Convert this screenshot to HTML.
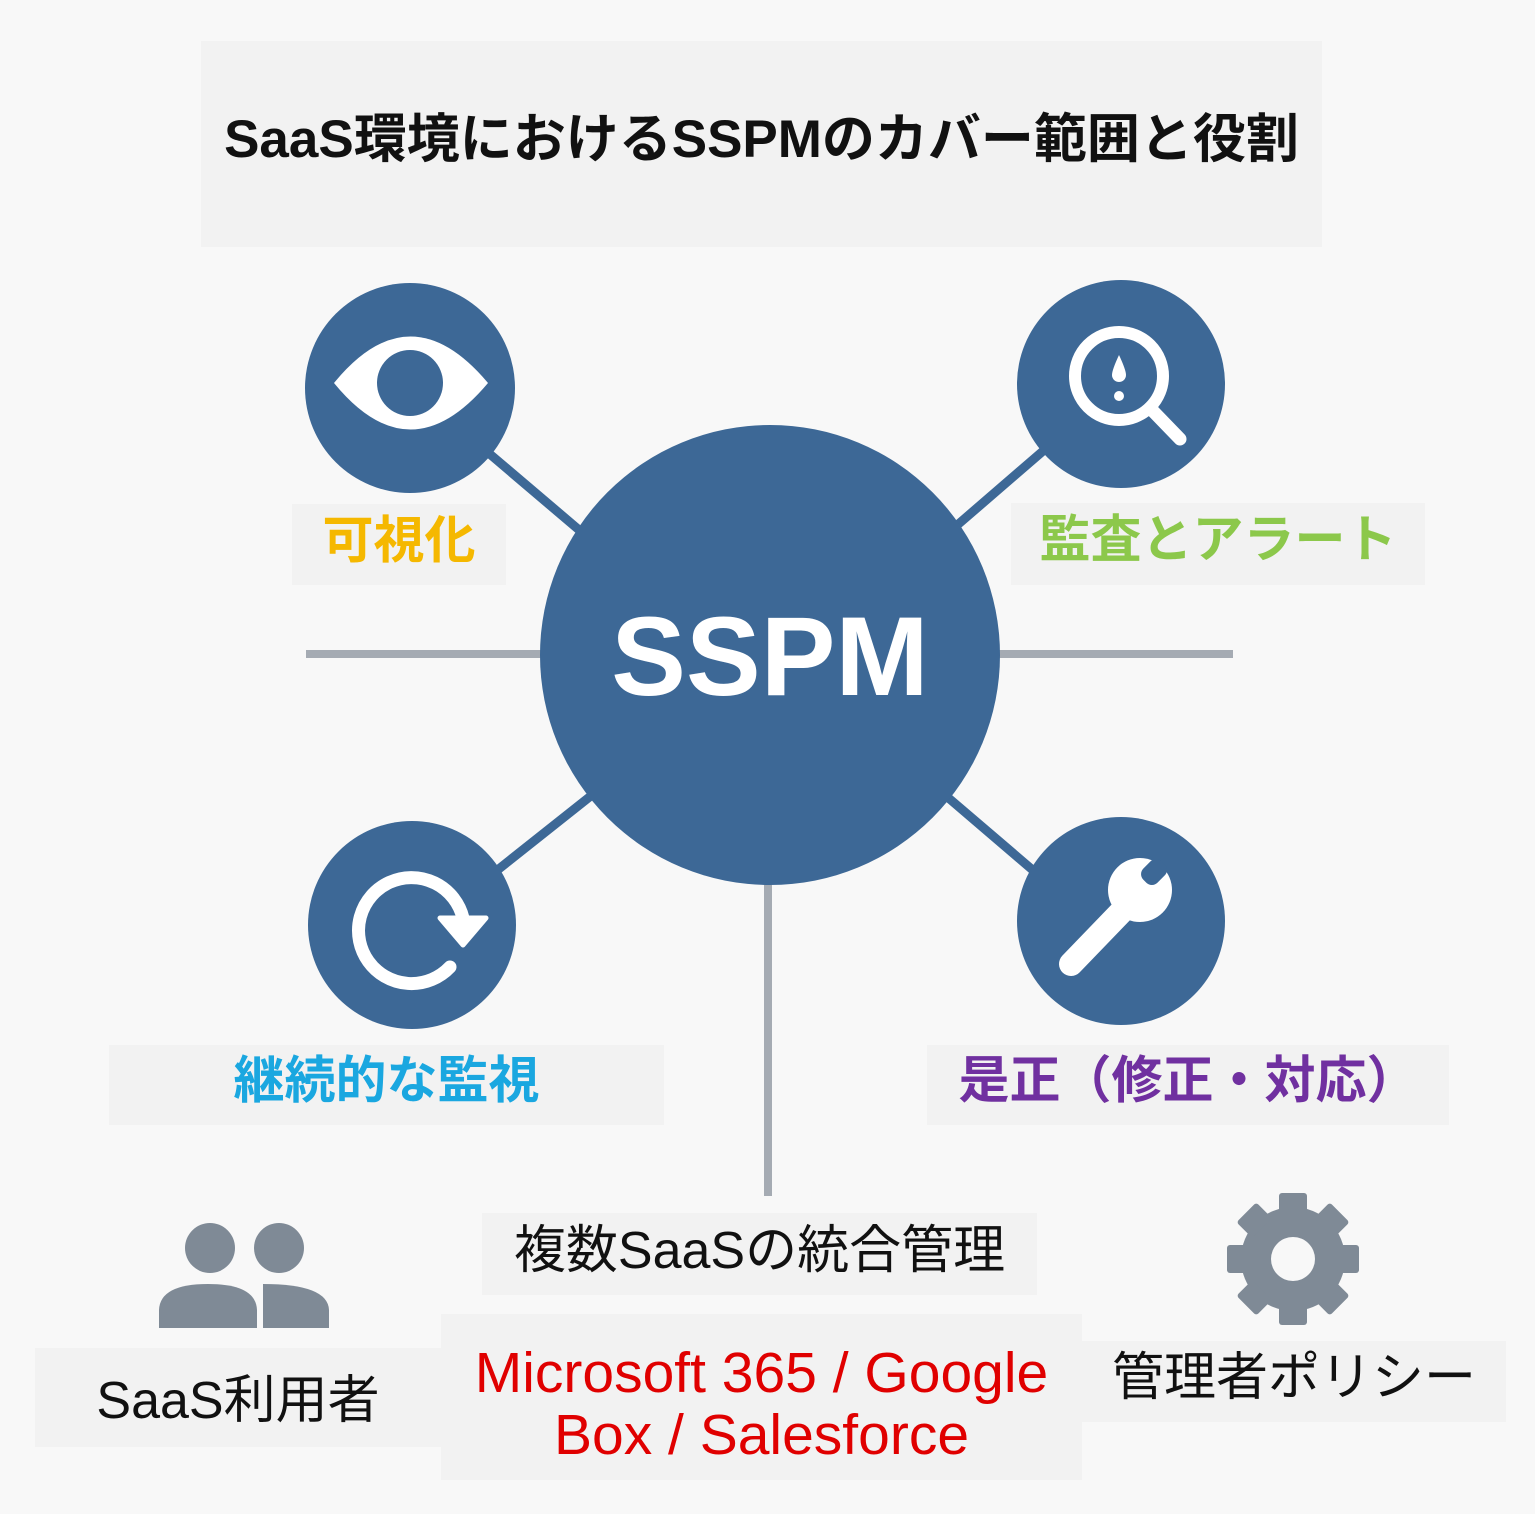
<!DOCTYPE html>
<html><head><meta charset="utf-8"><style>
html,body{margin:0;padding:0;background:#f8f8f8;}
body{width:1535px;height:1514px;position:relative;overflow:hidden;font-family:"Liberation Sans","Noto Sans CJK JP",sans-serif;}
.b{position:absolute;background:#f2f2f2;display:flex;align-items:center;justify-content:center;white-space:nowrap;}
.b span{position:relative;top:-9px;}
svg{position:absolute;left:0;top:0;}
</style></head><body>
<svg width="1535" height="1514" viewBox="0 0 1535 1514">
<g stroke="#a5abb3" stroke-width="8">
<line x1="306" y1="654" x2="545" y2="654"/><line x1="995" y1="654" x2="1233" y2="654"/>
<line x1="768" y1="880" x2="768" y2="1196"/>
</g>
<g stroke="#3d6896" stroke-width="9">
<line x1="485" y1="450" x2="585" y2="535"/><line x1="955" y1="527" x2="1050" y2="445"/>
<line x1="495" y1="872" x2="592" y2="795"/><line x1="945" y1="795" x2="1035" y2="872"/>
</g>
<g fill="#3d6896">
<circle cx="770" cy="655" r="230"/>
<circle cx="410" cy="388" r="105"/>
<circle cx="1121" cy="384" r="104"/>
<circle cx="412" cy="925" r="104"/>
<circle cx="1121" cy="921" r="104"/>
</g>
<path d="M334 383 Q410 290 488 383 Q410 476 334 383Z" fill="#fff"/>
<circle cx="410" cy="383" r="33" fill="#3d6896"/>
<circle cx="1119" cy="376" r="44" fill="none" stroke="#fff" stroke-width="12"/>
<line x1="1150" y1="408" x2="1180" y2="439" stroke="#fff" stroke-width="13" stroke-linecap="round"/>
<path d="M1119 355 Q1126 370 1126 375 A7 7 0 0 1 1112 375 Q1112 370 1119 355Z" fill="#fff"/>
<circle cx="1119" cy="396" r="5" fill="#fff"/>
<path d="M450 967 A53 53 0 1 1 463 918" fill="none" stroke="#fff" stroke-width="13" stroke-linecap="round"/>
<path d="M440 918 L486 918 L463 945Z" fill="#fff" stroke="#fff" stroke-width="5" stroke-linejoin="round"/>
<line x1="1071" y1="964" x2="1125" y2="908" stroke="#fff" stroke-width="24" stroke-linecap="round"/>
<circle cx="1140" cy="890" r="32" fill="#fff"/>
<rect x="1141" y="862" width="26" height="20" rx="8" fill="#3d6896" transform="rotate(-45 1154 872)"/>
<g fill="#7f8a96">
<circle cx="210" cy="1248" r="25"/><circle cx="279" cy="1248" r="25"/>
<path d="M159 1328 L159 1310 Q160 1284 208 1284 Q256 1284 257 1310 L257 1328Z"/>
<path d="M263 1328 L263 1284 Q328 1284 329 1310 L329 1328Z"/>
</g>
<g fill="#7f8a96" transform="translate(1293 1259)">
<circle r="52"/>
<g id="t"><rect x="-14" y="-66" width="28" height="22" rx="3"/></g>
<use href="#t" transform="rotate(45)"/><use href="#t" transform="rotate(90)"/><use href="#t" transform="rotate(135)"/>
<use href="#t" transform="rotate(180)"/><use href="#t" transform="rotate(225)"/><use href="#t" transform="rotate(270)"/><use href="#t" transform="rotate(315)"/>
<circle r="22" fill="#f8f8f8"/>
</g>
<text x="770" y="695" text-anchor="middle" font-family="Liberation Sans" font-weight="bold" font-size="112" fill="#fff">SSPM</text>
</svg>
<div class="b" style="left:201px;top:41px;width:1121px;height:206px;font-size:53px;font-weight:bold;color:#111;"><span>SaaS環境におけるSSPMのカバー範囲と役割</span></div>
<div class="b" style="left:292px;top:504px;width:214px;height:81px;font-size:51px;font-weight:bold;color:#f5b800;"><span>可視化</span></div>
<div class="b" style="left:1011px;top:503px;width:414px;height:82px;font-size:51px;font-weight:bold;color:#8cc84b;"><span>監査とアラート</span></div>
<div class="b" style="left:109px;top:1045px;width:555px;height:80px;font-size:51px;font-weight:bold;color:#1aa7e0;"><span>継続的な監視</span></div>
<div class="b" style="left:927px;top:1045px;width:522px;height:80px;font-size:51px;font-weight:bold;color:#7030a0;"><span>是正（修正・対応）</span></div>
<div class="b" style="left:482px;top:1213px;width:555px;height:82px;font-size:52px;color:#111;"><span>複数SaaSの統合管理</span></div>
<div class="b" style="left:441px;top:1314px;width:641px;height:166px;font-size:57px;color:#e00000;flex-direction:column;line-height:62px;"><span style="top:7px">Microsoft 365 / Google</span><span style="top:7px">Box / Salesforce</span></div>
<div class="b" style="left:35px;top:1348px;width:406px;height:99px;font-size:52px;color:#111;"><span style="top:-2px">SaaS利用者</span></div>
<div class="b" style="left:1082px;top:1341px;width:424px;height:81px;font-size:52px;color:#111;"><span>管理者ポリシー</span></div>
</body></html>
